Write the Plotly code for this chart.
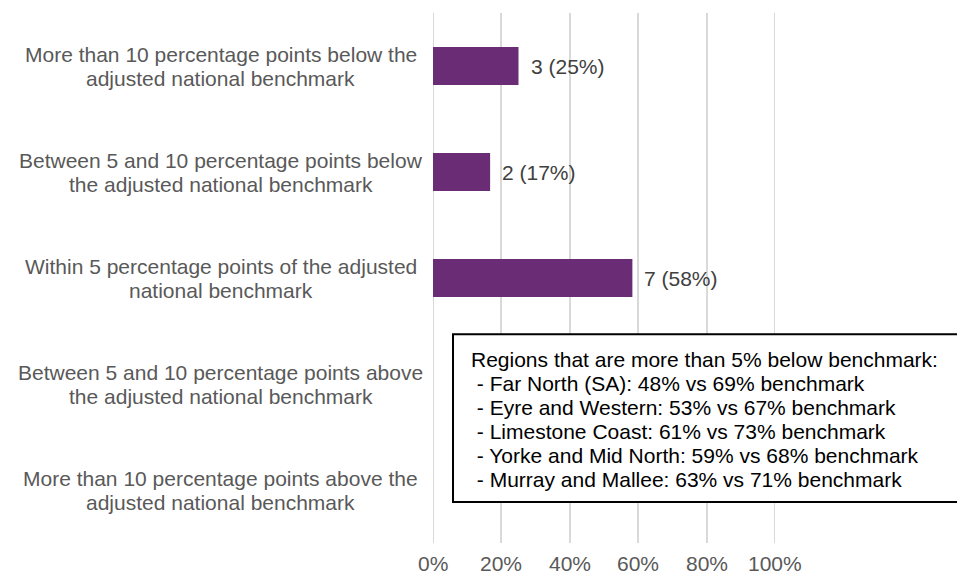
import plotly.graph_objects as go

categories = [
    "More than 10 percentage points below the<br>adjusted national benchmark",
    "Between 5 and 10 percentage points below<br>the adjusted national benchmark",
    "Within 5 percentage points of the adjusted<br>national benchmark",
    "Between 5 and 10 percentage points above<br>the adjusted national benchmark",
    "More than 10 percentage points above the<br>adjusted national benchmark",
]
share_pct = [25.0, 16.7, 58.3, 0.0, 0.0]
bar_labels = ["3 (25%)", "2 (17%)", "7 (58%)", "", ""]
tick_vals = [0, 0.2, 0.4, 0.6, 0.8, 1.0]
tick_text = ["0%", "20%", "40%", "60%", "80%", "100%"]
box_lines = [
    "Regions that are more than 5% below benchmark:",
    "\u00a0- Far North (SA): 48% vs 69% benchmark",
    "\u00a0- Eyre and Western: 53% vs 67% benchmark",
    "\u00a0- Limestone Coast: 61% vs 73% benchmark",
    "\u00a0- Yorke and Mid North: 59% vs 68% benchmark",
    "\u00a0- Murray and Mallee: 63% vs 71% benchmark",
]

FONT = "Arial, Liberation Sans, sans-serif"
FS = 21
LINE = 24
GRID = "#d9d9d9"
xs = [v / 100 for v in share_pct]
ys = list(range(len(categories)))

fig = go.Figure(go.Bar(
    x=xs, y=ys, orientation="h",
    marker=dict(color="#6a2c75", line=dict(width=0)),
    width=0.36, hoverinfo="skip",
))

annotations = []
for yi, (cat, v, lab) in enumerate(zip(categories, xs, bar_labels)):
    parts = cat.split("<br>")
    n = len(parts)
    for k, part in enumerate(parts):
        annotations.append(dict(
            x=-0.621, xref="paper", y=yi, yref="y", text=part, showarrow=False,
            xanchor="center", yanchor="middle", align="center",
            yshift=-(k - (n - 1) / 2) * LINE,
            font=dict(family=FONT, size=FS, color="#595959"),
        ))
    if lab:
        annotations.append(dict(
            x=v, xref="x", y=yi, yref="y", text=lab, showarrow=False,
            xanchor="left", yanchor="middle", xshift=10,
            font=dict(family=FONT, size=FS, color="#404040"),
        ))

# x-axis tick labels
for tv, tt in zip(tick_vals, tick_text):
    annotations.append(dict(
        x=tv, xref="x", y=0, yref="paper", text=tt, showarrow=False,
        xanchor="center", yanchor="middle", yshift=-20,
        font=dict(family=FONT, size=FS, color="#595959"),
    ))

# plot area: 13..543 px vertically (530 px)
first_line_px = 359
for k, line in enumerate(box_lines):
    ypx = first_line_px + k * LINE
    annotations.append(dict(
        x=0.104, xref="paper", y=(543 - ypx) / 530, yref="paper", text=line,
        showarrow=False, xanchor="left", yanchor="middle", align="left",
        font=dict(family=FONT, size=FS, color="#000000"),
    ))

shapes = [dict(type="line", xref="x", yref="paper", x0=tv, x1=tv, y0=0, y1=1,
               line=dict(color=GRID, width=2), layer="below") for tv in (0, 1)]
shapes.append(dict(type="rect", xref="paper", yref="paper",
                   x0=0.0585, x1=1.54, y0=0.0774, y1=0.394,
                   line=dict(color="black", width=2), fillcolor="white", layer="above"))

fig.update_layout(
    width=957, height=575,
    margin=dict(l=433, r=182, t=13, b=32),
    paper_bgcolor="white", plot_bgcolor="white",
    showlegend=False,
    annotations=annotations,
    shapes=shapes,
    xaxis=dict(range=[0, 1], tickvals=tick_vals, showticklabels=False,
               showgrid=True, gridcolor=GRID, gridwidth=2,
               zeroline=False, showline=False, ticks="", automargin=False),
    yaxis=dict(range=[len(categories) - 0.5, -0.5], showticklabels=False,
               showgrid=False, zeroline=False, showline=False, ticks="",
               automargin=False),
)

fig.write_html("out.html", config={"displayModeBar": False},
               post_script="document.body.style.margin='0';")
